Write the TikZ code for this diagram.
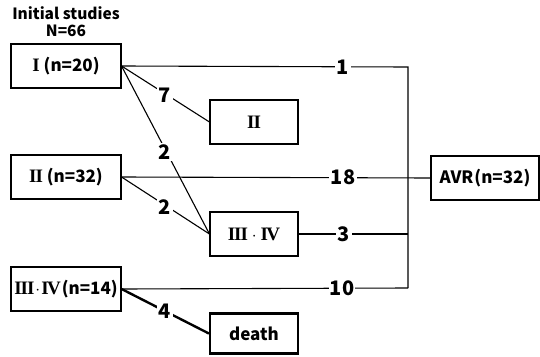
\documentclass[tikz,border=0pt]{standalone}
\usepackage{fontspec}
\setmainfont{Noto Sans CJK JP}
\newfontfamily\romfont{Liberation Serif}
\newcommand{\rI}{{\romfont\bfseries\fontsize{19}{19}\selectfont I}}
\newcommand{\rII}{{\romfont\bfseries\fontsize{19}{19}\selectfont I\kern-1pt I}}
\newcommand{\rIII}{{\romfont\bfseries\fontsize{19}{19}\selectfont I\kern-1pt I\kern-1pt I}}
\newcommand{\rIV}{{\romfont\bfseries\fontsize{19}{19}\selectfont I\kern-1.5pt V}}
\begin{document}
\begin{tikzpicture}[x=1pt,y=-1pt,
  box/.style={draw,line width=1.1pt,minimum width=110pt,minimum height=44pt,inner sep=0pt,font=\fontsize{17}{18}\selectfont\bfseries},
  mbox/.style={draw,line width=1.1pt,minimum width=88pt,minimum height=44pt,inner sep=0pt,font=\fontsize{17}{18}\selectfont\bfseries},
  lbl/.style={fill=white,inner sep=2pt,font=\fontsize{20}{21}\selectfont\bfseries},
  conn/.style={line width=1.1pt}]
\useasboundingbox (0,0) rectangle (540,356);
\node[font=\fontsize{15.5}{17}\selectfont\bfseries] (title) at (66,13) {Initial\ studies};
\node[font=\fontsize{15.5}{17}\selectfont\bfseries] (nn) at (66,31) {N=66};
\node[box] (I) at (66,66) {\rI\ (n=20)};
\node[box] (II) at (66,177) {\rII\ (n=32)};
\node[box] (III) at (66,289) {\rIII\kern1pt$\cdot$\kern1pt\rIV\kern1pt(n=14)};
\node[mbox] (mII) at (254,122) {\rII};
\node[mbox] (mIII) at (254,234) {\rIII\ $\cdot$ \rIV};
\node[mbox,line width=2.2pt,minimum height=40pt] (death) at (254,333.5) {death};
\node[box,minimum width=108pt] (AVR) at (485,178) {AVR\kern1pt(n=32)};
\coordinate (top) at (408,67);
\coordinate (bot) at (408,288);
\coordinate (mid3) at (408,234);
\draw[conn] (I.east) -- (top) -- (bot);
\draw[conn] (II.east) -- (AVR.west);
\draw[conn] (mIII.east) -- (mid3);
\draw[conn] (III.east) -- (bot);
\draw[conn] (I.east) -- (mII.west);
\draw[conn] (I.east) -- (mIII.west);
\draw[conn] (II.east) -- (mIII.west);
\draw[line width=2.4pt] (III.east) -- (death.west);
\node[lbl] (l1) at (343,67) {1};
\node[lbl] (l18) at (343,177) {18};
\node[lbl] (l3) at (344,234) {3};
\node[lbl,inner sep=0.5pt] (l10) at (342,288) {10};
\node[lbl] (l7) at (165,95) {7};
\node[lbl] (l2a) at (165,152) {2};
\node[lbl] (l2b) at (165,207) {2};
\node[lbl] (l4) at (165,311) {4};
\end{tikzpicture}
\end{document}
